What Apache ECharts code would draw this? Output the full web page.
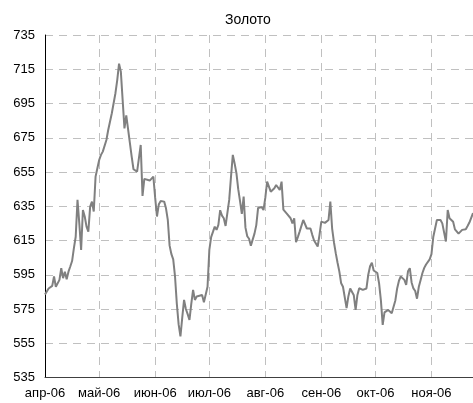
<!DOCTYPE html>
<html>
<head>
    <meta charset="utf-8">
    <script src="https://cdn.jsdelivr.net/npm/echarts@6/dist/echarts.min.js"></script>
</head>
<body style="margin:0">
<div id="main" style="width: 473px;height:403px;"></div>
<script type="text/javascript">
    // цена золота, по дням
    var dates = [
        '2006-04-01','2006-04-03','2006-04-04','2006-04-05','2006-04-06','2006-04-07','2006-04-09','2006-04-10',
        '2006-04-11','2006-04-12','2006-04-13','2006-04-14','2006-04-15','2006-04-16','2006-04-17','2006-04-18',
        '2006-04-19','2006-04-20','2006-04-21','2006-04-22','2006-04-23','2006-04-24','2006-04-25','2006-04-26',
        '2006-04-27','2006-04-28','2006-04-29','2006-04-30','2006-05-01','2006-05-02','2006-05-03','2006-05-04',
        '2006-05-05','2006-05-06','2006-05-08','2006-05-10','2006-05-11','2006-05-12','2006-05-13','2006-05-14',
        '2006-05-15','2006-05-16','2006-05-17','2006-05-18','2006-05-19','2006-05-20','2006-05-22','2006-05-23',
        '2006-05-24','2006-05-25','2006-05-26','2006-05-27','2006-05-29','2006-05-31','2006-06-01','2006-06-02',
        '2006-06-03','2006-06-04','2006-06-05','2006-06-06','2006-06-07','2006-06-08','2006-06-09','2006-06-10',
        '2006-06-11','2006-06-12','2006-06-13','2006-06-14','2006-06-15','2006-06-16','2006-06-17','2006-06-18',
        '2006-06-19','2006-06-20','2006-06-21','2006-06-22','2006-06-23','2006-06-24','2006-06-25','2006-06-27',
        '2006-06-28','2006-06-29','2006-06-30','2006-07-01','2006-07-02','2006-07-03','2006-07-04','2006-07-05',
        '2006-07-06','2006-07-07','2006-07-08','2006-07-09','2006-07-10','2006-07-11','2006-07-12','2006-07-13',
        '2006-07-14','2006-07-15','2006-07-16','2006-07-17','2006-07-18','2006-07-19','2006-07-20','2006-07-21',
        '2006-07-22','2006-07-23','2006-07-24','2006-07-25','2006-07-26','2006-07-27','2006-07-28','2006-07-30',
        '2006-07-31','2006-08-01','2006-08-02','2006-08-03','2006-08-04','2006-08-06','2006-08-07','2006-08-08',
        '2006-08-09','2006-08-10','2006-08-11','2006-08-13','2006-08-14','2006-08-15','2006-08-16','2006-08-17',
        '2006-08-18','2006-08-19','2006-08-20','2006-08-22','2006-08-24','2006-08-26','2006-08-27','2006-08-28',
        '2006-08-30','2006-08-31','2006-09-01','2006-09-03','2006-09-05','2006-09-06','2006-09-07','2006-09-08',
        '2006-09-09','2006-09-10','2006-09-11','2006-09-12','2006-09-13','2006-09-14','2006-09-15','2006-09-16',
        '2006-09-17','2006-09-18','2006-09-19','2006-09-20','2006-09-21','2006-09-22','2006-09-24','2006-09-26',
        '2006-09-27','2006-09-28','2006-09-29','2006-09-30','2006-10-02','2006-10-03','2006-10-04','2006-10-05',
        '2006-10-06','2006-10-07','2006-10-08','2006-10-09','2006-10-10','2006-10-11','2006-10-12','2006-10-13',
        '2006-10-14','2006-10-15','2006-10-16','2006-10-17','2006-10-18','2006-10-19','2006-10-20','2006-10-21',
        '2006-10-22','2006-10-23','2006-10-24','2006-10-25','2006-10-26','2006-10-27','2006-10-28','2006-10-29',
        '2006-10-31','2006-11-01','2006-11-02','2006-11-03','2006-11-04','2006-11-05','2006-11-06','2006-11-07',
        '2006-11-08','2006-11-09','2006-11-10','2006-11-11','2006-11-12','2006-11-13','2006-11-14','2006-11-15',
        '2006-11-16','2006-11-17','2006-11-18','2006-11-19','2006-11-20','2006-11-21','2006-11-22','2006-11-23',
        '2006-11-24'
    ];
    var prices = [
        583.5, 587, 586.5, 588.5, 594, 588, 592, 598.8,
        593, 596.8, 592.4, 596.8, 599.8, 603, 610.5, 617.2,
        638.7, 625, 609.5, 632.8, 629, 623.1, 620.2, 634.8,
        637.7, 631.9, 652.3, 657.2, 662, 665, 666.9, 667,
        673.7, 679.5, 689.3, 701, 708.7, 718.3, 713.6, 697,
        680.5, 688, 688.5, 672, 664, 656.6, 655.2, 655.5,
        670.8, 641, 651, 650.4, 650, 652.3, 640, 629,
        636, 638, 638.3, 637.7, 633.8, 627, 612, 607,
        604, 594, 578, 566, 559, 570, 580.3, 575,
        572, 568.6, 578, 586.2, 580.3, 582.3, 583.2, 583.2,
        579, 578.7, 588, 609.5, 617, 620, 623.1, 621.2,
        624.1, 632.7, 629.5, 628, 623.5, 623, 638.7, 652.3,
        665, 660, 654.3, 645, 638, 630.5, 640.6, 622.5,
        617.5, 616, 612, 611.8, 619, 624, 634, 634.5,
        632.8, 640, 649.4, 650.4, 643.5, 645.5, 647.4, 648,
        644.5, 649.4, 633, 630.5, 629.5, 628, 625, 628,
        614, 617, 620.2, 627, 622, 622, 618.3, 615,
        611.5, 618.3, 626, 625.3, 627, 637.7, 622, 614,
        607.6, 602, 596.8, 590, 588, 587.5, 575.5, 582.5,
        587, 587.5, 583, 574.5, 583.2, 587.1, 586.2, 587,
        595, 600, 602, 597.5, 596, 590, 580, 565.7,
        573, 573.5, 574.5, 575.2, 572.5, 572.3, 580, 587,
        591.5, 594, 595, 592, 589.1, 597, 598.8, 590.5,
        587, 585.5, 581, 588, 592, 596, 599, 601,
        604, 607, 617, 622, 627, 627.3, 627, 625,
        624, 614.4, 632.8, 628, 627, 626, 621.5, 620.5,
        619, 618.3, 621.2, 621.4, 621.6, 623.5, 625.5, 626,
        631
    ];
    var ruMonths = ['янв', 'фев', 'мар', 'апр', 'май', 'июн', 'июл', 'авг', 'сен', 'окт', 'ноя', 'дек'];
    var yMin = 535, yMax = 735, yStep = 20;
    var xStart = '2006-04-01', xEnd = '2006-11-24';

    var myChart = echarts.init(document.getElementById('main'));
    var font = 'Arial, "Liberation Sans", sans-serif';

    var option = {
        animation: false,
        title: {
            text: 'Золото',
            left: 225,
            top: 13,
            padding: 0,
            textStyle: { fontSize: 14, fontWeight: 'normal', color: '#000', fontFamily: font }
        },
        grid: { left: 45, right: 0, top: 35, bottom: 25.5, containLabel: false },
        xAxis: {
            type: 'time',
            min: xStart,
            max: xEnd,
            splitNumber: 8,
            axisLine: { lineStyle: { color: '#404040', width: 1 } },
            axisTick: { show: false },
            axisLabel: {
                color: '#000', fontSize: 13, fontFamily: font, margin: 9,
                hideOverlap: false,
                formatter: function (val) {
                    var d = new Date(val);
                    return ruMonths[d.getMonth()] + '-' + String(d.getFullYear()).slice(2);
                }
            },
            splitLine: { show: true, lineStyle: { color: '#c0c0c0', type: [8, 6] } }
        },
        yAxis: {
            type: 'value',
            min: yMin,
            max: yMax,
            interval: yStep,
            axisLine: { show: true, lineStyle: { color: '#000', width: 1 } },
            axisTick: { show: false },
            axisLabel: { color: '#000', fontSize: 13, fontFamily: font, margin: 10 },
            splitLine: { show: true, lineStyle: { color: '#c0c0c0', type: [8, 6] } }
        },
        series: [{
            type: 'line',
            showSymbol: false,
            data: dates.map(function (d, i) { return [d, prices[i]]; }),
            lineStyle: { color: '#808080', width: 2 }
        }]
    };
    myChart.setOption(option);
</script>
</body>
</html>
